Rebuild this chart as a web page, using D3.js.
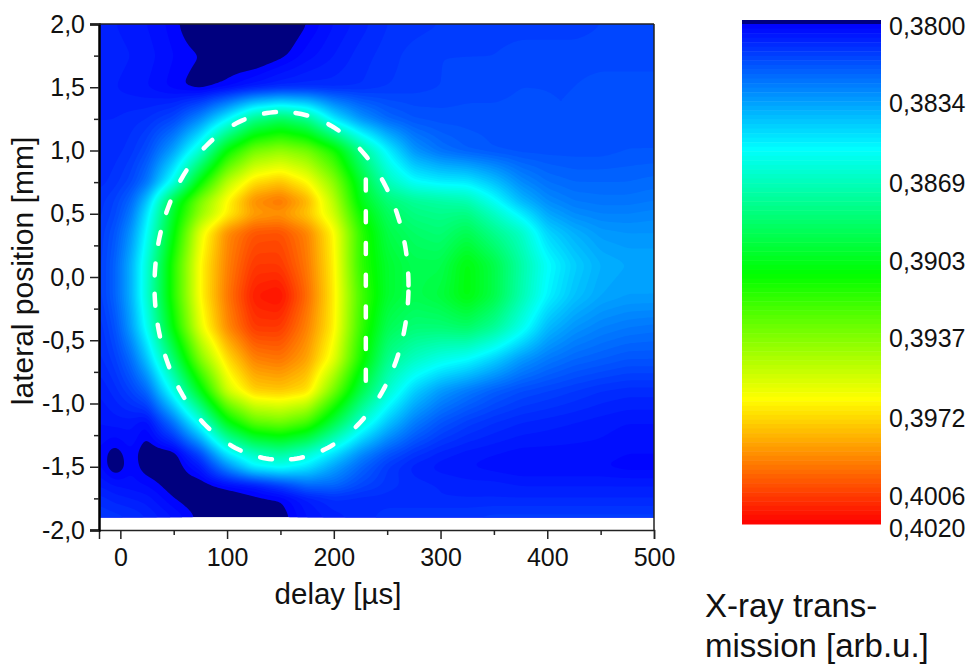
<!DOCTYPE html>
<html>
<head>
<meta charset="utf-8">
<script src="https://cdn.jsdelivr.net/npm/d3@7"></script>
<style>
  html, body { margin: 0; background: #fff; }
  text { font-family: "Liberation Sans", Arial, sans-serif; fill: #111; }
</style>
</head>
<body>
<script>
const width = 977;
const height = 666;

// delay [us], one entry per column of the table
const delays = [-20, -5, 10, 25, 50, 75, 100, 125, 150, 175, 200, 225, 250, 275, 300, 325, 350, 375, 400, 425, 450, 475, 500];
// lateral position [mm], one entry per row
const positions = [2.0, 1.75, 1.5, 1.25, 1.0, 0.75, 0.6, 0.5, 0.35, 0.1, -0.15, -0.4, -0.65, -0.9, -1.15, -1.4, -1.5, -1.65, -1.75, -1.9];
// transmission x 10^4
const transmission = [
  [3808,3806,3805,3804,3801,3796,3795,3795,3796,3800,3804,3807,3810,3811,3812,3812,3813,3813,3813,3813,3814,3814,3814],
  [3808,3807,3806,3805,3802,3800,3797,3796,3799,3803,3806,3809,3811,3813,3814,3814,3814,3815,3815,3815,3815,3815,3815],
  [3808,3806,3805,3804,3801,3798,3801,3805,3808,3809,3809,3810,3812,3813,3814,3815,3815,3816,3816,3816,3817,3817,3817],
  [3808,3808,3809,3810,3815,3830,3853,3880,3890,3880,3850,3832,3822,3818,3817,3817,3817,3817,3816,3816,3817,3817,3817],
  [3808,3809,3811,3816,3835,3865,3910,3935,3942,3935,3915,3880,3853,3832,3824,3820,3818,3817,3817,3817,3817,3818,3818],
  [3809,3811,3815,3825,3860,3910,3950,3972,3978,3966,3940,3900,3870,3856,3852,3851,3842,3830,3824,3822,3822,3822,3823],
  [3811,3814,3822,3842,3897,3937,3966,3990,3996,3982,3950,3905,3885,3878,3875,3872,3857,3840,3830,3826,3825,3825,3826],
  [3811,3815,3826,3850,3902,3942,3967,3985,3988,3977,3955,3912,3890,3882,3880,3882,3868,3852,3836,3830,3828,3828,3829],
  [3812,3818,3832,3856,3908,3960,3990,4002,4003,3992,3966,3920,3895,3888,3885,3893,3880,3868,3846,3838,3833,3832,3832],
  [3812,3821,3838,3864,3918,3966,3992,4008,4008,3994,3968,3920,3900,3893,3893,3908,3895,3875,3856,3845,3838,3836,3836],
  [3812,3821,3838,3865,3918,3966,3994,4014,4017,3997,3969,3925,3900,3893,3897,3908,3895,3873,3853,3842,3836,3834,3834],
  [3810,3817,3834,3858,3910,3960,3990,4008,4008,3992,3968,3922,3892,3885,3885,3888,3878,3860,3840,3832,3828,3826,3825],
  [3809,3813,3823,3842,3887,3938,3972,3992,3995,3985,3960,3915,3880,3868,3860,3855,3845,3833,3826,3822,3820,3818,3818],
  [3806,3809,3814,3822,3860,3905,3955,3975,3977,3972,3935,3895,3866,3845,3833,3826,3820,3816,3814,3812,3810,3809,3809],
  [3804,3805,3805,3802,3825,3860,3905,3930,3935,3925,3895,3865,3843,3827,3818,3813,3810,3808,3807,3806,3805,3804,3804],
  [3802,3798,3802,3797,3797,3815,3850,3868,3875,3865,3848,3830,3818,3811,3807,3805,3804,3803,3803,3803,3803,3802,3802],
  [3803,3797,3802,3798,3797,3805,3830,3853,3858,3850,3835,3822,3812,3807,3805,3804,3803,3802,3802,3802,3802,3801,3801],
  [3806,3804,3803,3802,3798,3797,3801,3804,3812,3822,3822,3815,3811,3809,3808,3807,3807,3806,3806,3806,3806,3806,3806],
  [3809,3807,3806,3805,3800,3797,3797,3799,3800,3806,3810,3809,3809,3808,3808,3808,3808,3808,3808,3808,3808,3808,3808],
  [3812,3811,3810,3808,3804,3799,3797,3797,3798,3804,3807,3809,3811,3812,3812,3812,3813,3813,3813,3813,3813,3813,3813]
];

const xMajor = [0, 100, 200, 300, 400, 500];
const xMinor = [50, 150, 250, 350, 450];
const yMajor = [-2, -1.5, -1, -0.5, 0, 0.5, 1, 1.5, 2];
const yMinor = [-1.75, -1.25, -0.75, -0.25, 0.25, 0.75, 1.25, 1.75];
const legendLabels = ["0,3800", "0,3834", "0,3869", "0,3903", "0,3937", "0,3972", "0,4006", "0,4020"];
const legendValues = [3800, 3834, 3869, 3903, 3937, 3972, 4006, 4020];

// dashed marks: ellipse centre and radii, then the straight line
const ringCentre = [151, -0.07];
const ringRadius = [119, 1.375];
// where each dash of the ring sits, degrees clockwise from the top
const ringDashes = [9, 24.2, 40.4, 54.4, 66.3, 77.5, 87.9, 93.8, 104.1, 115.3, 127.3, 141.9, 158.5, 173, 187, 201.3, 217, 232.1, 244.2, 255.1, 265.4, 275.4, 286, 296.9, 309.4, 324.6, 340.5, 354.8];
const dashX = 230;
const dashY = [0.77, -0.82];

const x = d3.scaleLinear().domain([-20, 500]).range([99, 654]);
const y = d3.scaleLinear().domain([-2, 2]).range([530, 24]);

const colorStops = [3800, 3855, 3910, 3965, 4020];
const colorNames = ["#0000ff", "#00ffff", "#00ff00", "#ffff00", "#ff0000"];
const color = d3.scaleLinear().domain(colorStops).range(colorNames).clamp(true);
const levels = d3.range(3800, 4020, 2);

const svg = d3.select("body").append("svg")
  .attr("width", width)
  .attr("height", height)
  .style("display", "block");

// sample the table on a fine grid, then contour it
const step = 2;
const colIndex = d3.scaleLinear().domain(delays).range(d3.range(delays.length)).clamp(true);
const rowIndex = d3.scaleLinear().domain(positions).range(d3.range(positions.length)).clamp(true);
const heatLeft = x(-20);
const heatTop = y(2);
const heatW = x(500) - heatLeft;
const heatH = y(-1.9) - heatTop;
const nx = Math.ceil(heatW / step);
const ny = Math.ceil(heatH / step);
const grid = new Float64Array(nx * ny);
for (let j = 0; j < ny; j++) {
  const fr = rowIndex(y.invert(heatTop + (j + 0.5) * step));
  const r0 = Math.min(Math.floor(fr), positions.length - 2);
  for (let i = 0; i < nx; i++) {
    const fc = colIndex(x.invert(heatLeft + (i + 0.5) * step));
    const c0 = Math.min(Math.floor(fc), delays.length - 2);
    const top = d3.interpolateNumber(transmission[r0][c0], transmission[r0][c0 + 1])(fc - c0);
    const bot = d3.interpolateNumber(transmission[r0 + 1][c0], transmission[r0 + 1][c0 + 1])(fc - c0);
    grid[j * nx + i] = top + (bot - top) * (fr - r0);
  }
}
const smooth = d3.blur2({ data: grid, width: nx, height: ny }, 1.3);

svg.append("clipPath").attr("id", "heat-clip")
  .append("rect")
  .attr("x", heatLeft).attr("y", heatTop)
  .attr("width", heatW).attr("height", heatH);

const heat = svg.append("g").attr("clip-path", "url(#heat-clip)");
heat.append("rect")
  .attr("x", heatLeft).attr("y", heatTop)
  .attr("width", heatW).attr("height", heatH)
  .attr("fill", "#00007f");

const contours = d3.contours().size([nx, ny]).thresholds(levels)(smooth.data);
const toScreen = d3.geoTransform({
  point(px, py) { this.stream.point(heatLeft + px * step, heatTop + py * step); }
});
heat.selectAll("path.band")
  .data(contours)
  .join("path")
  .attr("class", "band")
  .attr("d", d3.geoPath(toScreen))
  .attr("fill", d => color(d.value + 1));

// white dashed marks
const ringX = a => x(ringCentre[0] + ringRadius[0] * Math.sin(a));
const ringY = a => y(ringCentre[1] + ringRadius[1] * Math.cos(a));
const ringLine = d3.line().x(ringX).y(ringY);
const dashLength = 12;

svg.selectAll("path.ring-dash")
  .data(ringDashes)
  .join("path")
  .attr("class", "ring-dash")
  .attr("d", deg => {
    const a = deg * Math.PI / 180;
    // turn a fixed length on screen into an angle at this spot of the ellipse
    const speed = Math.hypot(ringX(a + 0.01) - ringX(a), ringY(a + 0.01) - ringY(a)) / 0.01;
    const half = dashLength / 2 / speed;
    return ringLine(d3.range(5).map(k => a - half + k * half / 2));
  })
  .attr("fill", "none")
  .attr("stroke", "#fff")
  .attr("stroke-width", 4.5)
  .attr("stroke-linecap", "round");

svg.append("line")
  .attr("x1", x(dashX)).attr("x2", x(dashX))
  .attr("y1", y(dashY[0])).attr("y2", y(dashY[1]))
  .attr("stroke", "#fff")
  .attr("stroke-width", 4.5)
  .attr("stroke-linecap", "round")
  .attr("stroke-dasharray", "11 20.7");

// axes
const comma = d => d3.format(".1f")(d).replace(".", ",").replace("\u2212", "-");

const xAxis = svg.append("g").attr("transform", `translate(0,${y(-2)})`)
  .call(d3.axisBottom(x).tickValues(xMajor).tickSize(9).tickPadding(9).tickFormat(d3.format("d")));
const xAxisMinor = svg.append("g").attr("transform", `translate(0,${y(-2)})`)
  .call(d3.axisBottom(x).tickValues(xMinor).tickSize(5).tickFormat(""));
const yAxis = svg.append("g").attr("transform", `translate(${x(-20)},0)`)
  .call(d3.axisLeft(y).tickValues(yMajor).tickSize(9).tickPadding(5).tickFormat(comma));
const yAxisMinor = svg.append("g").attr("transform", `translate(${x(-20)},0)`)
  .call(d3.axisLeft(y).tickValues(yMinor).tickSize(5).tickFormat(""));

svg.selectAll("g .tick text").attr("font-size", 25).attr("font-family", null).style("fill", "#111");
svg.selectAll("g .tick line").attr("stroke", "#222").attr("stroke-width", 1.5);
xAxis.select(".domain").attr("stroke", "#222").attr("stroke-width", 1.5);
yAxis.select(".domain").attr("stroke", "#000").attr("stroke-width", 2.5);
xAxisMinor.select(".domain").remove();
yAxisMinor.select(".domain").remove();

// frame, top and right
svg.append("line")
  .attr("x1", x(-20)).attr("x2", x(500)).attr("y1", y(2)).attr("y2", y(2))
  .attr("stroke", "#222").attr("stroke-width", 1.5);
svg.append("line")
  .attr("x1", x(500)).attr("x2", x(500)).attr("y1", y(2)).attr("y2", y(-2))
  .attr("stroke", "#222").attr("stroke-width", 1.5);

svg.append("text")
  .attr("x", 338).attr("y", 604)
  .attr("text-anchor", "middle")
  .attr("font-size", 29.5)
  .text("delay [µs]");
svg.append("text")
  .attr("transform", "translate(33,271) rotate(-90)")
  .attr("text-anchor", "middle")
  .attr("font-size", 30)
  .text("lateral position [mm]");

// colour bar
const legendY = d3.scaleLinear().domain([3800, 4020]).range([24, 524]);
const labelY = d3.scaleLinear().domain([3800, 4020]).range([26, 528]);
svg.append("rect")
  .attr("x", 742).attr("y", 20).attr("width", 139).attr("height", legendY(3800) - 20)
  .attr("fill", "#00007f");
svg.selectAll("rect.swatch")
  .data(levels)
  .join("rect")
  .attr("class", "swatch")
  .attr("x", 742)
  .attr("width", 139)
  .attr("y", d => legendY(d))
  .attr("height", d => legendY(d + 2) - legendY(d) + 0.5)
  .attr("fill", d => color(d + 1));

svg.selectAll("text.level")
  .data(legendValues)
  .join("text")
  .attr("class", "level")
  .attr("x", 889)
  .attr("y", d => labelY(d))
  .attr("dy", "0.35em")
  .attr("font-size", 25)
  .text((d, i) => legendLabels[i]);

svg.append("text").attr("x", 705).attr("y", 617).attr("font-size", 33).text("X-ray trans-");
svg.append("text").attr("x", 705).attr("y", 657).attr("font-size", 33).text("mission [arb.u.]");
</script>
</body>
</html>
